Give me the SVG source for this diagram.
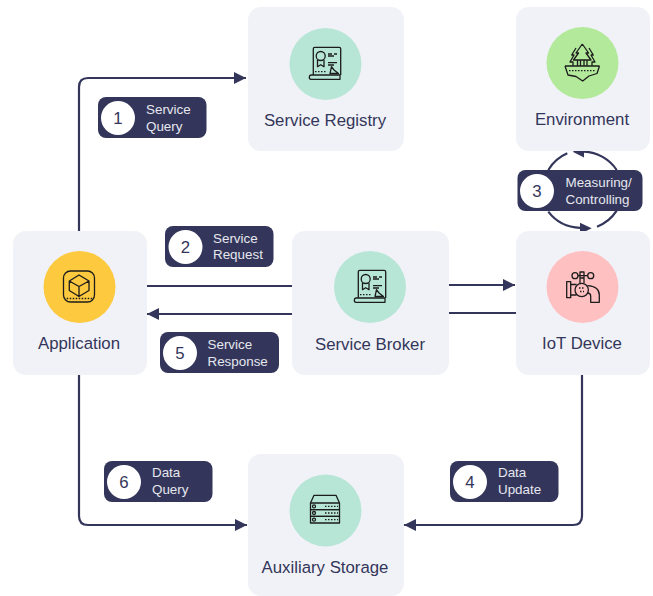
<svg xmlns="http://www.w3.org/2000/svg" width="653" height="596" viewBox="0 0 653 596">
<style>
.card{fill:#f1f2f7}
.lbl{font:16.8px "Liberation Sans",Arial,sans-serif;fill:#33365a;text-anchor:middle}
.pill{fill:#33365a}
.num{font:16.8px "Liberation Sans",Arial,sans-serif;fill:#33365a;text-anchor:middle}
.txt{font:13.4px "Liberation Sans",Arial,sans-serif;fill:#e6e7ef}
.con{fill:none;stroke:#33365a;stroke-width:2.200}
.head{fill:#33365a}
.ic{fill:none;stroke:#1c1c1c;stroke-width:1.300;stroke-linejoin:round}
.d{fill:none;stroke:#1c1c1c;stroke-width:1.300;stroke-dasharray:1.500 1.500}
</style>
<defs>
<marker id="a" markerUnits="userSpaceOnUse" markerWidth="13" markerHeight="14" refX="12" refY="7" orient="auto"><path d="M0 1L12 7L0 13z" fill="#33365a"/></marker>
<g id="doc">
<path class="ic" d="M-11.700 11V-15.200Q-11.700 -16.700 -10.200 -16.700H14.200Q15.700 -16.700 15.700 -15.200V11"/>
<path class="ic" d="M-14 11H15V15.300H-14Q-15.700 15.300 -15.700 13.200T-14 11z"/>
<circle class="ic" cx="-4.300" cy="-8" r="4.500"/>
<path class="ic" d="M-7.500 -4V2.700L-4.300 0.700L-1 2.700V-4"/>
<path class="ic" d="M3 -10H7M9 -10H12M3 -8H9M3 -1.300H12M3 1H9"/>
<path class="d" d="M-10 7.700H2"/>
<path class="ic" d="M5 9.500L6.500 2.700L9 6L13.500 9.500z"/>
</g>
</defs>

<g id="connectors">
<path class="con" d="M79 231V87Q79 78 88 78H246" marker-end="url(#a)"/>
<path class="con" d="M147 286H292"/>
<path class="con" d="M292 314H147" marker-end="url(#a)"/>
<path class="con" d="M449 285H515" marker-end="url(#a)"/>
<path class="con" d="M449 313H516"/>
<path class="con" d="M582 375V516Q582 525 573 525H404" marker-end="url(#a)"/>
<path class="con" d="M79 375V516Q79 525 88 525H247" marker-end="url(#a)"/>
<path class="con" d="M548.300 170A41 41 0 0 1 567.300 153.300"/>
<path class="con" d="M616.700 170A41 41 0 0 0 584 151.700"/>
<path class="head" d="M572.700 151.700L584 146V157.500z"/>
<path class="con" d="M548.300 211.700A41 41 0 0 0 580 227.800"/>
<path class="head" d="M591.700 228.300L580 222.800V234z"/>
<path class="con" d="M616.700 210.700A41 41 0 0 1 597 226.700"/>
</g>

<g id="service-registry">
<rect class="card" x="248" y="7" width="156" height="144" rx="13"/>
<circle cx="325.500" cy="64" r="36" fill="#b7e6d6"/>
<use href="#doc" x="325" y="64"/>
<text class="lbl" x="325" y="126">Service Registry</text>
</g>

<g id="environment">
<rect class="card" x="516" y="7" width="134" height="144" rx="13"/>
<circle cx="582.500" cy="63" r="36" fill="#b3e99b"/>
<path class="ic" d="M582.300 44L576 53H578.500L573.500 60H577.500V66M582.300 44L588.600 53H586L591 60H587V66M577.500 60H587M580.500 60V66M584 60V66"/>
<path class="ic" d="M576 48L571.700 55H574L570 62H573L573 66M589 48L593.300 55H591L595 62H592L592 66"/>
<path class="ic" d="M565 66H599.500M565 66L568 75L576 76.500L582.700 81L589 76L597 73.500L599.500 66"/>
<path class="d" d="M569 70.700H595"/>
<text class="lbl" x="582" y="125">Environment</text>
</g>

<g id="application">
<rect class="card" x="13" y="231" width="134" height="144" rx="13"/>
<circle cx="79.500" cy="287" r="36" fill="#fdc93f"/>
<rect class="ic" x="63.500" y="271" width="31" height="31" rx="7"/>
<path class="ic" d="M79 275L89 281V290.500L79 296.500L69.300 290.500V281zM69.300 281L79 286.500L89 281M79 286.500V296.500"/>
<path class="d" d="M66.700 298.500H92"/>
<text class="lbl" x="79" y="349">Application</text>
</g>

<g id="service-broker">
<rect class="card" x="292" y="231" width="157" height="144" rx="13"/>
<circle cx="370" cy="287" r="36" fill="#b7e6d6"/>
<use href="#doc" x="370" y="287"/>
<text class="lbl" x="370" y="350">Service Broker</text>
</g>

<g id="iot-device">
<rect class="card" x="516" y="231" width="134" height="144" rx="13"/>
<circle cx="582.500" cy="287" r="36" fill="#ffc0c2"/>
<rect class="ic" x="566.700" y="281.700" width="4" height="16"/>
<path class="ic" d="M570.700 284.500H576.500M570.700 295H576.500M587.500 285.700Q599.300 286.500 599.300 295V302.300H590.700V296Q590.700 293.500 588 293"/>
<circle class="ic" cx="581.700" cy="290" r="6.700"/>
<path class="ic" d="M580 283V278H584V283M578 275.700H587.700M580 278V272H584V278"/>
<circle class="ic" cx="575" cy="275.700" r="3"/>
<circle class="ic" cx="590.700" cy="275.700" r="3"/>
<path class="d" d="M579 288H585M580 291.500H584"/>
<text class="lbl" x="582" y="349">IoT Device</text>
</g>

<g id="auxiliary-storage">
<rect class="card" x="248" y="454" width="156" height="142" rx="13"/>
<circle cx="325.500" cy="510.500" r="36" fill="#b7e6d6"/>
<path class="ic" d="M310.500 503L314 495.300H336L339.500 503"/>
<rect class="ic" x="310.500" y="503" width="29" height="6.700"/>
<rect class="ic" x="310.500" y="509.700" width="29" height="6.600"/>
<rect class="ic" x="310.500" y="516.300" width="29" height="6.700"/>
<circle class="ic" cx="314" cy="506.400" r="1.500"/>
<circle class="ic" cx="314" cy="513" r="1.500"/>
<circle class="ic" cx="314" cy="519.700" r="1.500"/>
<path class="d" d="M325 506.400H338M325 513H338M325 519.700H338"/>
<text class="lbl" x="325" y="573">Auxiliary Storage</text>
</g>

<g id="badge-1">
<rect class="pill" x="98" y="97" width="108.500" height="41" rx="8"/>
<circle cx="118" cy="118" r="17" fill="#fff"/>
<text class="num" x="118" y="124">1</text>
<text class="txt" x="146" y="114">Service</text>
<text class="txt" x="146" y="131">Query</text>
</g>
<g id="badge-2">
<rect class="pill" x="165" y="226" width="108.500" height="41" rx="8"/>
<circle cx="185.500" cy="247" r="17" fill="#fff"/>
<text class="num" x="185.500" y="253">2</text>
<text class="txt" x="213" y="243">Service</text>
<text class="txt" x="213" y="259">Request</text>
</g>
<g id="badge-3">
<rect class="pill" x="517.500" y="170" width="125" height="41" rx="8"/>
<circle cx="537" cy="191" r="17" fill="#fff"/>
<text class="num" x="537" y="197">3</text>
<text class="txt" x="565.500" y="187">Measuring/</text>
<text class="txt" x="565.500" y="204">Controlling</text>
</g>
<g id="badge-4">
<rect class="pill" x="450" y="461" width="108.500" height="41" rx="8"/>
<circle cx="470" cy="482" r="17" fill="#fff"/>
<text class="num" x="470" y="488">4</text>
<text class="txt" x="498" y="477">Data</text>
<text class="txt" x="498" y="494">Update</text>
</g>
<g id="badge-5">
<rect class="pill" x="160" y="332" width="119" height="41" rx="8"/>
<circle cx="180" cy="353" r="17" fill="#fff"/>
<text class="num" x="180" y="359">5</text>
<text class="txt" x="207.500" y="349">Service</text>
<text class="txt" x="207.500" y="366">Response</text>
</g>
<g id="badge-6">
<rect class="pill" x="104" y="461" width="108.500" height="41" rx="8"/>
<circle cx="124" cy="482" r="17" fill="#fff"/>
<text class="num" x="124" y="488">6</text>
<text class="txt" x="152" y="477">Data</text>
<text class="txt" x="152" y="494">Query</text>
</g>
</svg>
